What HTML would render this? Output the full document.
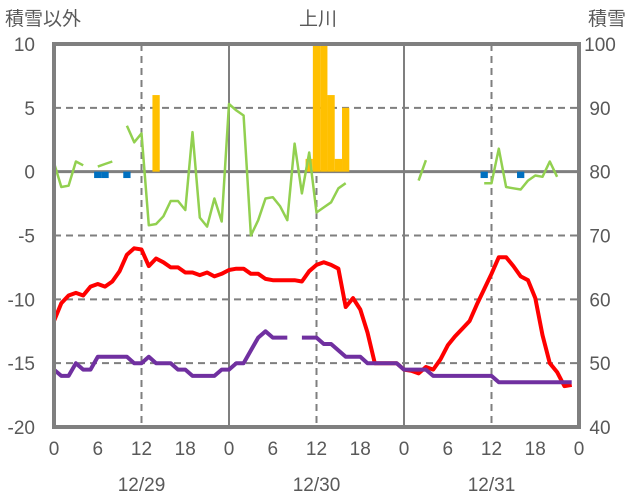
<!DOCTYPE html>
<html><head><meta charset="utf-8"><style>
body{margin:0;background:#fff;}
svg{display:block;font-family:"Liberation Sans","Noto Sans CJK JP",sans-serif;}
text{fill:#595959;font-size:19px;}
</style></head><body>
<svg id="chart" width="636" height="501" viewBox="0 0 636 501">
<text x="5" y="25">積雪以外</text>
<text x="318" y="25" text-anchor="middle">上川</text>
<text x="588" y="25">積雪</text>
<g id="grid"></g><g id="bars"></g><g id="lines"></g><g id="axes"></g>
</svg>
<script>
const leftTicks=[10,5,0,-5,-10,-15,-20];
const rightTicks=[100,90,80,70,60,50,40];
const hourLabels=["0","6","12","18","0","6","12","18","0","6","12","18","0"];
const dateLabels=["12/29","12/30","12/31"];
const N=null;
const tempRed=[-11.7,-10.3,-9.7,-9.5,-9.7,-9.0,-8.8,-9.0,-8.6,-7.8,-6.5,-6.0,-6.1,-7.4,-6.8,-7.1,-7.5,-7.5,-7.9,-7.9,-8.1,-7.9,-8.2,-8.0,-7.7,-7.6,-7.6,-8.0,-8.0,-8.4,-8.5,-8.5,-8.5,-8.5,-8.6,-7.8,-7.3,-7.1,-7.3,-7.6,-10.6,-9.9,-10.8,-12.6,-15,-15,-15,-15,-15.5,-15.6,-15.8,-15.3,-15.5,-14.7,-13.6,-12.9,-12.3,-11.7,-10.4,-9.2,-8.0,-6.7,-6.7,-7.4,-8.2,-8.5,-9.9,-12.8,-15.0,-15.7,-16.8,-16.7,N];
const purple=[-15.5,-16,-16,-15,-15.5,-15.5,-14.5,-14.5,-14.5,-14.5,-14.5,-15,-15,-14.5,-15,-15,-15,-15.5,-15.5,-16,-16,-16,-16,-15.5,-15.5,-15,-15,-14,-13,-12.5,-13,-13,-13,N,-13,-13,-13,-13.5,-13.5,-14,-14.5,-14.5,-14.5,-15,-15,-15,-15,-15,-15.5,-15.5,-15.5,-15.5,-16,-16,-16,-16,-16,-16,-16,-16,-16,-16.5,-16.5,-16.5,-16.5,-16.5,-16.5,-16.5,-16.5,-16.5,-16.5,-16.5,N];
const green=[0.7,-1.2,-1.1,0.8,0.5,N,0.4,0.6,0.8,N,3.6,2.3,3.0,-4.2,-4.1,-3.5,-2.3,-2.3,-3.0,3.1,-3.6,-4.3,-2.1,-3.9,5.3,4.8,4.4,-5.0,-3.8,-2.1,-2.0,-2.7,-3.8,2.2,-1.7,1.5,-3.2,-2.8,-2.4,-1.3,-0.9,N,N,N,N,N,N,N,N,N,-0.7,0.9,N,N,N,N,N,N,N,-0.9,-0.9,1.8,-1.2,-1.3,-1.4,-0.7,-0.3,-0.4,0.8,-0.4,N,N,N];
const yellowHours=[14,35,36,37,38,39,40];
const yellowVals=[6,1,12,12,6,1,5];
const blueHours=[6,7,10,59,64];
const blueVals=[-0.5,-0.5,-0.5,-0.5,-0.5];
const X0=54,X1=579,Y0=44,Y1=427;
const x=h=>X0+(X1-X0)*h/72;
const y=v=>Y0+(Y1-Y0)*(10-v)/30;
const NS="http://www.w3.org/2000/svg";
function mk(p,t,a){const e=document.createElementNS(NS,t);for(const k in a)e.setAttribute(k,a[k]);p.appendChild(e);return e;}
const grid=document.getElementById('grid'),bars=document.getElementById('bars'),lines=document.getElementById('lines'),axes=document.getElementById('axes');
leftTicks.forEach((v,i)=>{
 if(v<10&&v>-20){const l=mk(grid,'line',{x1:X0,x2:X1,y1:y(v),y2:y(v),stroke:'#7f7f7f','stroke-width':v===0?3:2,'stroke-dasharray':v===0?'':'7,5'});
 
 }
 const t=mk(axes,'text',{x:35,y:y(v)+7,'text-anchor':'end'});t.textContent=v;
 
 
 const r=mk(axes,'text',{x:600,y:y(v)+7,'text-anchor':'middle'});r.textContent=rightTicks[i];
 
 
});
[12,24,36,48,60].forEach(h=>{const l=mk(grid,'line',{x1:x(h),x2:x(h),y1:Y0,y2:Y1,stroke:'#7f7f7f','stroke-width':2,'stroke-dasharray':h%24?'7,5':''});
 
 });
hourLabels.forEach((s,i)=>{const t=mk(axes,'text',{x:x(i*6),y:455,'text-anchor':'middle'});t.textContent=s;
 
 });
dateLabels.forEach((s,i)=>{const t=mk(axes,'text',{x:x(12+24*i),y:491,'text-anchor':'middle'});t.textContent=s;
 
 });
const bw=(X1-X0)/72;
yellowHours.forEach((h,i)=>{const v=Math.min(yellowVals[i],10);const r=mk(bars,'rect',{x:x(h)-bw/2,y:y(v),width:bw,height:y(0)-y(v),fill:'#ffc000'});
 
 });
blueHours.forEach((h,i)=>{const r=mk(bars,'rect',{x:x(h)-bw/2,y:y(0),width:bw,height:y(blueVals[i])-y(0),fill:'#0070c0'});
 
 });
function path(arr,color,w,name){let d='',pen=false;arr.forEach((v,i)=>{if(v===null){pen=false;return;}d+=(pen?'L':'M')+x(i).toFixed(1)+','+y(v).toFixed(1);pen=true;});
 const p=mk(lines,'path',{d:d,fill:'none',stroke:color,'stroke-width':w,'stroke-linejoin':'round'});
 
 }
path(green,'#92d050',2.5,'green-line');
path(tempRed,'#ff0000',4,'red-line');
path(purple,'#7030a0',4,'purple-line');
const b=mk(axes,'rect',{x:X0,y:Y0,width:X1-X0,height:Y1-Y0,fill:'none',stroke:'#7f7f7f','stroke-width':4});


</script>
</body></html>
